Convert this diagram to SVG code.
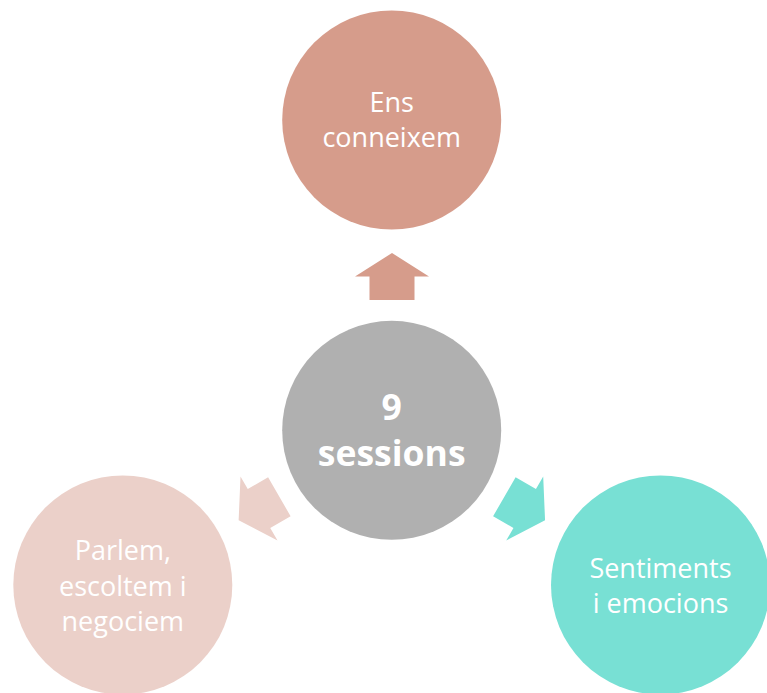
<svg xmlns="http://www.w3.org/2000/svg" width="767" height="693" viewBox="0 0 767 693">
<defs>
<style>
.lbl{font-family:"Open Sans","Liberation Sans",sans-serif;font-size:27px;fill:#ffffff;text-anchor:middle}
.ctr{font-family:"Open Sans","Liberation Sans",sans-serif;font-size:35.5px;font-weight:bold;fill:#ffffff;text-anchor:middle}
</style>
<path id="arw" d="M0,-23.5 L37,0 L22.5,0 L22.5,23.5 L-22.5,23.5 L-22.5,0 L-37,0 Z"/>
</defs>
<rect width="767" height="693" fill="#ffffff"/>
<g id="connectors">
<use href="#arw" transform="translate(392,276.5)" fill="#D69C8B"/>
<use href="#arw" transform="translate(524.7,508.5) rotate(120)" fill="#78E0D4"/>
<use href="#arw" transform="translate(259,508.5) rotate(240)" fill="#EBD0C9"/>
</g>
<g id="node-top">
<circle cx="391.7" cy="120" r="109.5" fill="#D69C8B"/>
<text class="lbl" x="391.7" y="111.5">Ens</text>
<text class="lbl" x="391.7" y="146.5">conneixem</text>
</g>
<g id="node-center">
<circle cx="391.7" cy="430.3" r="109.5" fill="#B0B0B0"/>
<text class="ctr" x="391.7" y="420">9</text>
<text class="ctr" x="391.7" y="466">sessions</text>
</g>
<g id="node-left">
<circle cx="122.8" cy="585" r="109.5" fill="#EBD0C9"/>
<text class="lbl" x="122.8" y="560">Parlem,</text>
<text class="lbl" x="122.8" y="595.5">escoltem i</text>
<text class="lbl" x="122.8" y="631">negociem</text>
</g>
<g id="node-right">
<circle cx="660.5" cy="585" r="109.5" fill="#78E0D4"/>
<text class="lbl" x="660.5" y="578.3">Sentiments</text>
<text class="lbl" x="660.5" y="612.7">i emocions</text>
</g>
</svg>
